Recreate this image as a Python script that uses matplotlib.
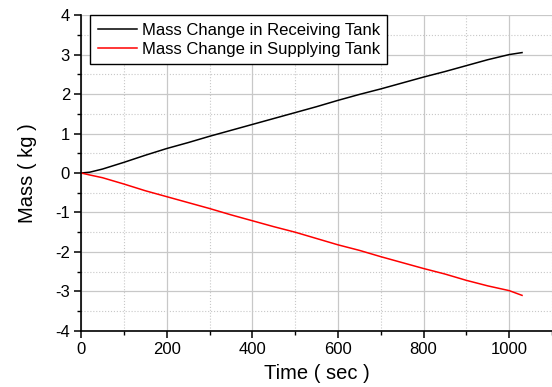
import matplotlib
matplotlib.use('Agg')
import matplotlib.pyplot as plt
from matplotlib.ticker import MultipleLocator

plt.rcParams['font.family'] = ['Liberation Sans', 'DejaVu Sans']
plt.rcParams['axes.unicode_minus'] = False

time = [0, 20, 50, 100, 150, 200, 250, 300, 350, 400, 450, 500, 550, 600,
        650, 700, 750, 800, 850, 900, 950, 1000, 1030]
receiving = [0, 0.02, 0.1, 0.27, 0.45, 0.62, 0.77, 0.93, 1.08, 1.23, 1.38,
             1.53, 1.68, 1.84, 1.99, 2.13, 2.28, 2.43, 2.57, 2.72, 2.87,
             3.0, 3.05]
supplying = [0, -0.05, -0.12, -0.28, -0.45, -0.6, -0.75, -0.9, -1.06, -1.21,
             -1.36, -1.5, -1.66, -1.82, -1.96, -2.12, -2.27, -2.42, -2.56,
             -2.72, -2.86, -2.98, -3.1]

fig = plt.figure(figsize=(5.52, 3.87), dpi=100)
ax = fig.add_axes([0.147, 0.145, 0.853, 0.816])

ax.plot(time, receiving, color='k', lw=1.1, label='Mass Change in Receiving Tank')
ax.plot(time, supplying, color='r', lw=1.1, label='Mass Change in Supplying Tank')

ax.set_xlim(0, 1100)
ax.set_ylim(-4, 4)
ax.xaxis.set_major_locator(MultipleLocator(200))
ax.xaxis.set_minor_locator(MultipleLocator(100))
ax.yaxis.set_major_locator(MultipleLocator(1))
ax.yaxis.set_minor_locator(MultipleLocator(0.5))
ax.set_xticks([0, 200, 400, 600, 800, 1000])

ax.grid(which='major', color='#c8c8c8', lw=0.9, ls='-')
ax.grid(which='minor', color='#c8c8c8', lw=0.8, ls=':')
ax.set_axisbelow(True)

for s in ['top', 'right']:
    ax.spines[s].set_visible(False)
ax.spines['left'].set_linewidth(1.2)
ax.spines['bottom'].set_linewidth(1.2)
ax.tick_params(which='major', direction='out', length=5, width=1.1,
               labelsize=12, pad=3)
ax.tick_params(which='minor', direction='out', length=3, width=1.0)

ax.set_xlabel('Time ( sec )', fontsize=14.5, labelpad=5)
ax.set_ylabel('Mass ( kg )', fontsize=14.5, labelpad=13)

leg = ax.legend(loc='upper left', bbox_to_anchor=(0.019, 1.0), borderaxespad=0,
                fontsize=12, fancybox=False, framealpha=1, edgecolor='k',
                handlelength=2.35, handletextpad=0.3, borderpad=0.45,
                labelspacing=0.26)
leg.get_frame().set_linewidth(1.0)

fig.savefig('out.png', dpi=100)
